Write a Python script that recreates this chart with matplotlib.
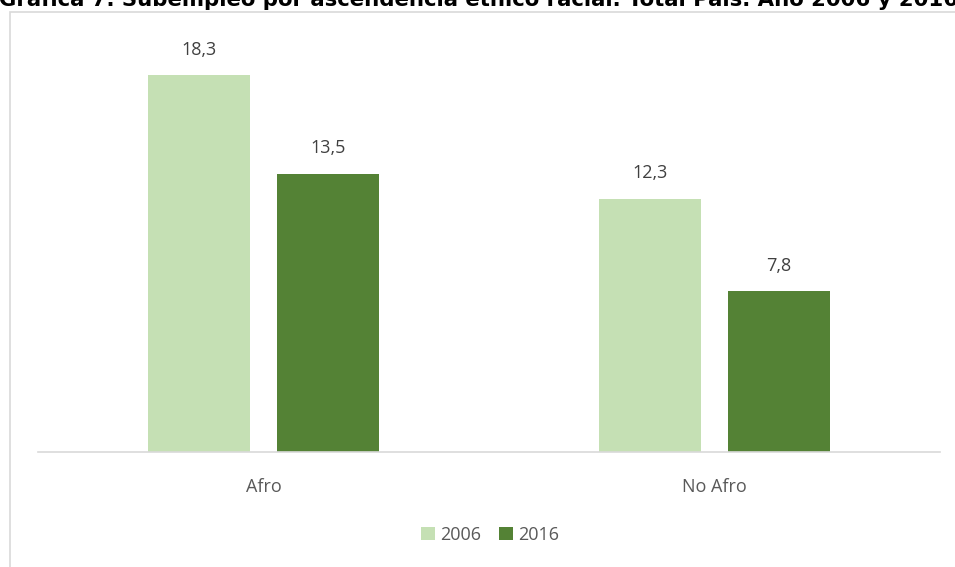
import matplotlib.pyplot as plt
import numpy as np
from matplotlib.patches import Rectangle

plt.rcParams['font.family'] = ['Open Sans', 'DejaVu Sans']

categories = ['Afro', 'No Afro']
years = ['2006', '2016']
values_2006 = [18.3, 12.3]
values_2016 = [13.5, 7.8]
colors = ['#C5E0B4', '#548235']
title = 'Gráfica 7. Subempleo por ascendencia étnico racial. Total País. Año 2006 y 2016'

fig = plt.figure(figsize=(9.55, 5.67), dpi=100)
W, H = 955, 567

# outer chart border (partly cut off, like the screenshot)
fig.patches.append(Rectangle((10 / W, -0.05), 1.0, (H - 12) / H + 0.05,
                             transform=fig.transFigure, fill=False,
                             edgecolor='#D9D9D9', linewidth=1.2))

# title sits above the visible area, only its lower part shows
fig.text(958 / W, 1 + 1 / H, title, ha='right', va='center',
         fontsize=15.3, fontweight='bold', color='#000000',
         family=['DejaVu Sans'])

ax = fig.add_axes([38 / W, (H - 452) / H, 902 / W, 412 / H])
x = np.arange(len(categories))
w = 0.224
off = 0.143
b1 = ax.bar(x - off, values_2006, w, color=colors[0], label=years[0])
b2 = ax.bar(x + off, values_2016, w, color=colors[1], label=years[1])

for bars in (b1, b2):
    for r in bars:
        ax.text(r.get_x() + r.get_width() / 2, r.get_height() + 0.8,
                f'{r.get_height():.1f}'.replace('.', ','),
                ha='center', va='bottom', fontsize=13, color='#404040')

ax.set_xlim(-0.5, 1.5)
ax.set_ylim(0, 412 / 20.6)
ax.set_xticks(x)
ax.set_xticklabels(categories, fontsize=13, color='#595959')
ax.tick_params(axis='x', length=0, pad=19)
ax.set_yticks([])
for s in ['top', 'right', 'left']:
    ax.spines[s].set_visible(False)
ax.spines['bottom'].set_color('#D9D9D9')
ax.spines['bottom'].set_linewidth(1.2)

fig.legend(loc='center', bbox_to_anchor=(490 / W, 1 - 535 / H), ncol=2,
           frameon=False, fontsize=13, handlelength=0.75, handleheight=0.75,
           handletextpad=0.3, columnspacing=1.0, labelcolor='#595959')

fig.savefig('out.png', dpi=100)
